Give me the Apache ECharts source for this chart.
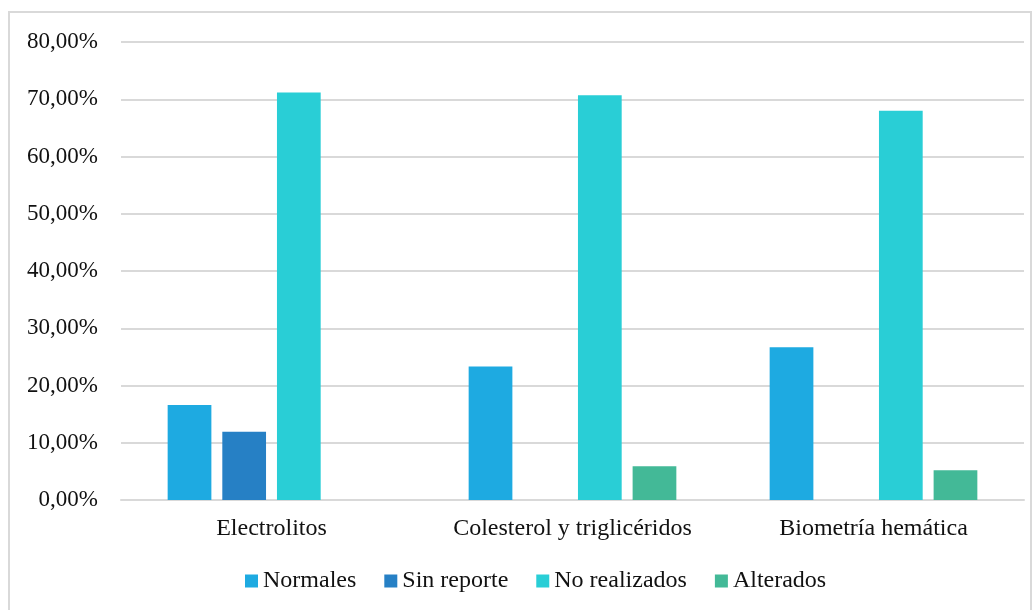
<!DOCTYPE html>
<html>
<head>
<meta charset="utf-8">
<script src="https://cdn.jsdelivr.net/npm/echarts@6/dist/echarts.min.js"></script>
<style>
    html, body {margin: 0; padding: 0; background: #fff;}
    #chart {width: 1036px; height: 610px;}
</style>
</head>
<body>
<div id="chart"></div>
<script>
// categorias y valores (%)
const categories = ['Electrolitos', 'Colesterol y triglicéridos', 'Biometría hemática'];
const seriesNames = ['Normales', 'Sin reporte', 'No realizados', 'Alterados'];
const normales = [16.6, 23.3, 26.7];
const sinReporte = [11.9, 0, 0];
const noRealizados = [71.2, 70.7, 68.0];
const alterados = [0, 5.9, 5.2];
const colors = ['#1eaae1', '#2680c5', '#29ced6', '#43b997'];

const chart = echarts.init(document.getElementById('chart'));
const font = 'Liberation Serif';

const makeSeries = (name, data, i) => ({
    name: name,
    type: 'bar',
    data: data,
    barGap: '25%',
    barCategoryGap: '31%',
    itemStyle: {color: colors[i]},
    emphasis: {disabled: true}
});

const option = {
    animation: false,
    textStyle: {fontFamily: font},
    graphic: [{
        type: 'rect',
        shape: {x: 9, y: 12, width: 1022, height: 610},
        style: {fill: 'none', stroke: '#d9d9d9', lineWidth: 2},
        silent: true
    }],
    grid: {left: 121, right: 12, top: 42, bottom: 110},
    legend: {
        top: 564,
        left: 240,
        itemWidth: 13,
        itemHeight: 13,
        itemGap: 28,
        icon: 'rect',
        textStyle: {fontFamily: font, fontSize: 24, color: '#111'},
        data: seriesNames
    },
    xAxis: {
        type: 'category',
        data: categories,
        axisLine: {lineStyle: {color: '#d9d9d9', width: 2}},
        axisTick: {show: false},
        axisLabel: {fontFamily: font, fontSize: 24, color: '#111', margin: 17, interval: 0}
    },
    yAxis: {
        type: 'value',
        min: 0,
        max: 80,
        interval: 10,
        axisLine: {show: false},
        axisTick: {show: false},
        splitLine: {lineStyle: {color: '#d9d9d9', width: 2}},
        axisLabel: {
            fontFamily: font,
            fontSize: 23,
            color: '#111',
            margin: 23,
            formatter: v => v.toFixed(2).replace('.', ',') + '%'
        }
    },
    series: [
        makeSeries(seriesNames[0], normales, 0),
        makeSeries(seriesNames[1], sinReporte, 1),
        makeSeries(seriesNames[2], noRealizados, 2),
        makeSeries(seriesNames[3], alterados, 3)
    ]
};
chart.setOption(option);
</script>
</body>
</html>
